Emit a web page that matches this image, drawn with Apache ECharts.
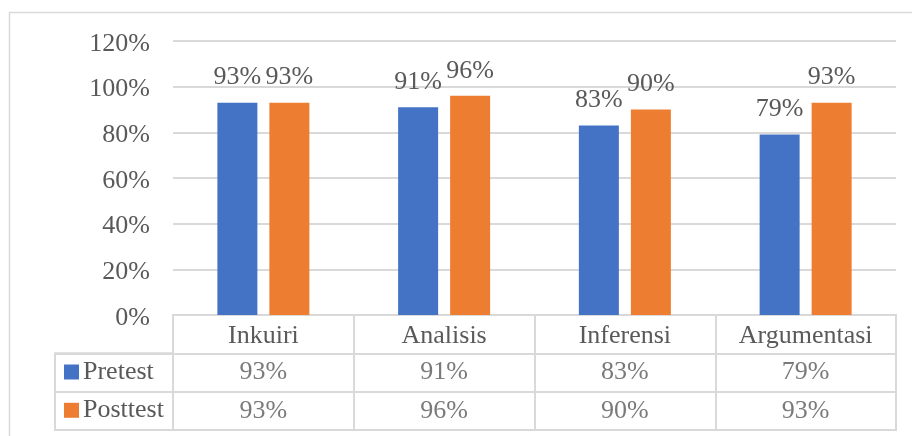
<!DOCTYPE html>
<html><head><meta charset="utf-8">
<script src="https://cdn.jsdelivr.net/npm/echarts@6/dist/echarts.min.js"></script>
<style>html,body{margin:0;background:#fff}#c{width:912px;height:436px}</style>
</head><body><div id="c"></div>
<script>
const categories = ['Inkuiri', 'Analisis', 'Inferensi', 'Argumentasi'];
const seriesNames = ['Pretest', 'Posttest'];
const pretest = [93, 91, 83, 79];
const posttest = [93, 96, 90, 93];
const yTicks = [0, 20, 40, 60, 80, 100, 120];

const colors = ['#4472C4', '#ED7D31'];
const FONT = 'Liberation Serif', TXT = '#595959', LINE = '#d9d9d9';
const FS = 26;
const pct = v => v + '%';

const chart = echarts.init(document.getElementById('c'), null, {renderer: 'canvas'});
const values = [pretest, posttest];

const barSeries = values.map((arr, k) => ({
  name: seriesNames[k], type: 'bar', xAxisIndex: 0, yAxisIndex: 0,
  data: arr, barWidth: 40, barGap: '30%',
  itemStyle: {color: colors[k]},
  label: {show: true, position: 'top', distance: 12, formatter: p => pct(p.value),
          color: TXT, fontSize: FS, fontFamily: FONT},
  emphasis: {disabled: true}
}));

const tableSeries = values.map((arr, k) => ({
  name: seriesNames[k] + ' table', type: 'scatter', xAxisIndex: 1, yAxisIndex: 1,
  data: arr.map((v, i) => [i, k + 1.5, v]),
  symbolSize: 1, itemStyle: {color: 'rgba(0,0,0,0)'},
  label: {show: true, position: 'inside', formatter: p => pct(p.value[2]),
          color: TXT, fontSize: FS, fontFamily: FONT},
  emphasis: {disabled: true}, silent: true
}));

const option = {
  animation: false,
  backgroundColor: '#fff',
  textStyle: {fontFamily: FONT},
  graphic: [{type: 'rect', shape: {x: 9.5, y: 12.5, width: 1000, height: 1000},
             style: {fill: null, stroke: LINE, lineWidth: 1.5}, z: -1, silent: true}],
  legend: {
    data: seriesNames, orient: 'vertical', left: 64, top: 359, itemGap: 12.3,
    itemWidth: 15, itemHeight: 15, icon: 'rect', selectedMode: false, padding: 0,
    textStyle: {fontFamily: FONT, fontSize: FS, color: TXT, padding: [0, 0, 0, -1]}
  },
  grid: [
    {left: 173, right: 16, top: 41, height: 274},
    {left: 173, right: 16, top: 315, height: 115, show: true, borderColor: LINE, borderWidth: 2},
    {left: 55, width: 118, top: 315 + 115 / 3, height: 115 * 2 / 3, show: true, borderColor: LINE, borderWidth: 2}
  ],
  xAxis: [
    {gridIndex: 0, type: 'category', data: categories, axisLine: {show: false},
     axisTick: {show: false}, axisLabel: {show: false}},
    {gridIndex: 1, type: 'category', data: categories, position: 'top',
     axisLine: {show: false}, axisTick: {show: false},
     splitLine: {show: true, lineStyle: {color: LINE, width: 2}},
     axisLabel: {inside: true, margin: 8, color: TXT, fontSize: FS, fontFamily: FONT}}
  ],
  yAxis: [
    {gridIndex: 0, type: 'value', min: yTicks[0], max: yTicks[yTicks.length - 1], interval: 20,
     axisLabel: {formatter: v => pct(v), color: TXT, fontSize: FS, fontFamily: FONT, margin: 23,
                 verticalAlign: 'top', lineHeight: 6},
     splitLine: {lineStyle: {color: LINE, width: 2}},
     axisLine: {show: false}, axisTick: {show: false}},
    {gridIndex: 1, type: 'value', min: 0, max: 3, interval: 1, inverse: true,
     splitLine: {show: true, lineStyle: {color: LINE, width: 2}},
     axisLine: {show: false},
     axisTick: {show: true, customValues: [1, 2, 3], length: 118, lineStyle: {color: LINE, width: 2}},
     axisLabel: {show: false}}
  ],
  series: barSeries.concat(tableSeries)
};
chart.setOption(option);
</script></body></html>
